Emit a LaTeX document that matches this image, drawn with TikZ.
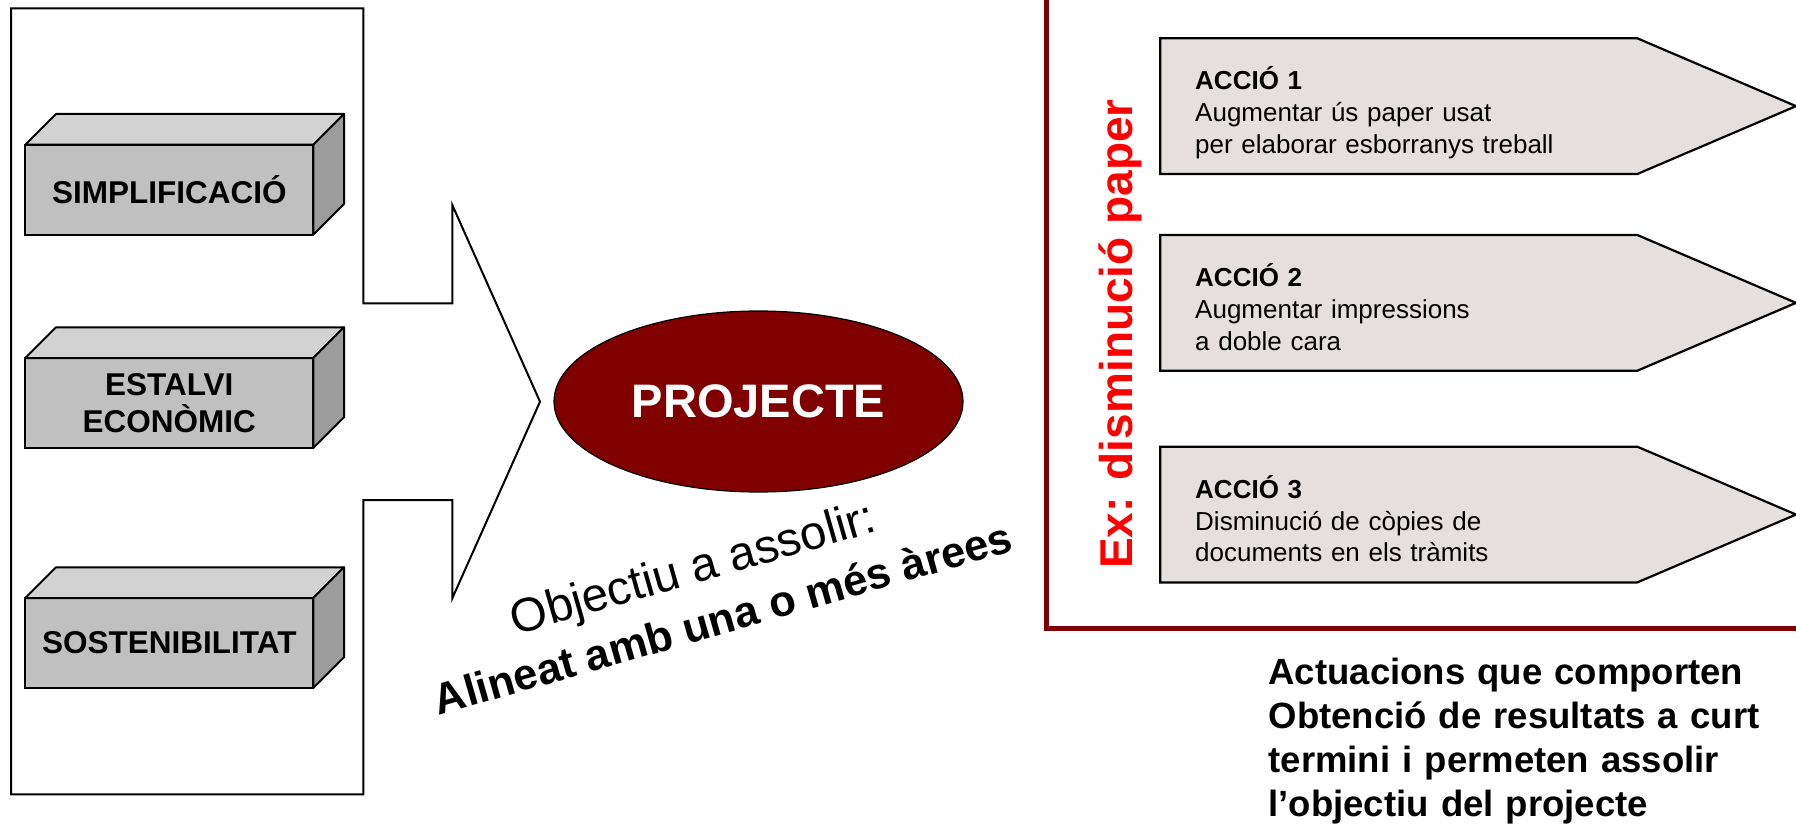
\documentclass[tikz,border=0pt]{standalone}
\usepackage{fontspec}
\setmainfont{Liberation Sans}
\usetikzlibrary{shapes.geometric}
\definecolor{granate}{HTML}{800000}
\definecolor{cubefront}{HTML}{C0C0C0}
\definecolor{cubetop}{HTML}{D2D2D2}
\definecolor{cubeside}{HTML}{9C9C9C}
\definecolor{acciofill}{HTML}{E5DFDD}

\begin{document}
\begin{tikzpicture}[x=1pt,y=-1pt,
        cube/.style={draw, line width=2pt, fill=cubefront, inner sep=0pt, outer sep=0pt,
                        minimum width=288pt, minimum height=90pt, align=center,
                        font=\fontsize{31.5}{36.6}\selectfont\bfseries},
        cubeline/.style={line width=2pt, line join=round},
        accio/.style={draw, line width=2.2pt, fill=acciofill},
        acciotext/.style={anchor=base west, inner sep=0pt, text width=440pt, align=left,
                        font=\fontsize{26}{31.7}\selectfont}]
    \useasboundingbox (0,0) rectangle (1796,824);
    % big arrow round the three areas
    \draw[line width=2pt] (11,8.3) -- (363.3,8.3) -- (363.3,303.3) -- (452.3,303.3)
        -- (452.3,205) -- (540,401.7) -- (452.3,598.3) -- (452.3,500)
        -- (363.3,500) -- (363.3,794.3) -- (11,794.3) -- cycle;
    \foreach \y/\n/\txt in {189.7/simp/SIMPLIFICACIÓ, 403/estalvi/{ESTALVI\\ECONÒMIC},
                            643/sost/SOSTENIBILITAT} {
        \node[cube] (\n) at (169.3,\y) {\txt};
        \draw[cubeline, fill=cubetop] (\n.north west) -- ++(30.7,-30.7) -- ++(288,0)
            -- (\n.north east) -- cycle;
        \draw[cubeline, fill=cubeside] (\n.north east) -- ++(30.7,-30.7) -- ++(0,90)
            -- (\n.south east) -- cycle;
    }
    \node[ellipse, draw, line width=1.2pt, fill=granate, text=white,
          minimum width=409pt, minimum height=181pt,
          font=\fontsize{47}{56}\selectfont\bfseries] (proj) at (758.5,401.5) {PROJECTE};
    \node[rotate=16, anchor=base, font=\fontsize{47.5}{56}\selectfont] (goal)
        at (697,583) {Objectiu a assolir:};
    \node[rotate=16, anchor=base, font=\fontsize{43.5}{52}\selectfont\bfseries] (areas)
        at (727,633) {Alineat amb una o més àrees};
    % example frame
    \draw[granate, line width=4.7pt] (1046.7,-10) -- (1046.7,628.3) -- (1806,628.3);
    \node[rotate=90, anchor=base, text=red, font=\fontsize{46}{55}\selectfont\bfseries] (ex)
        at (1132.7,334) {Ex: disminució paper};
    \foreach \n/\y/\txt in {1/38.3/{Augmentar ús paper usat\\per elaborar esborranys treball},
                            2/235/{Augmentar impressions\\a doble cara},
                            3/446.7/{Disminució de còpies de\\documents en els tràmits}} {
        \draw[accio] (1160.3,\y) -- ++(477,0) -- ++(158.7,67.85) -- ++(-158.7,67.85)
            -- ++(-477,0) -- cycle;
        \node[acciotext] (accio\n) at (1195,\y+51.7) {\textbf{ACCIÓ \n}\\\txt};
    }
    \node[anchor=base west, inner sep=0pt, text width=540pt, align=left,
          font=\fontsize{36.5}{44}\selectfont\bfseries] (result) at (1268.4,684)
        {Actuacions que comporten\\Obtenció de resultats a curt\\termini i permeten assolir\\l’objectiu del projecte};
\end{tikzpicture}
\end{document}
